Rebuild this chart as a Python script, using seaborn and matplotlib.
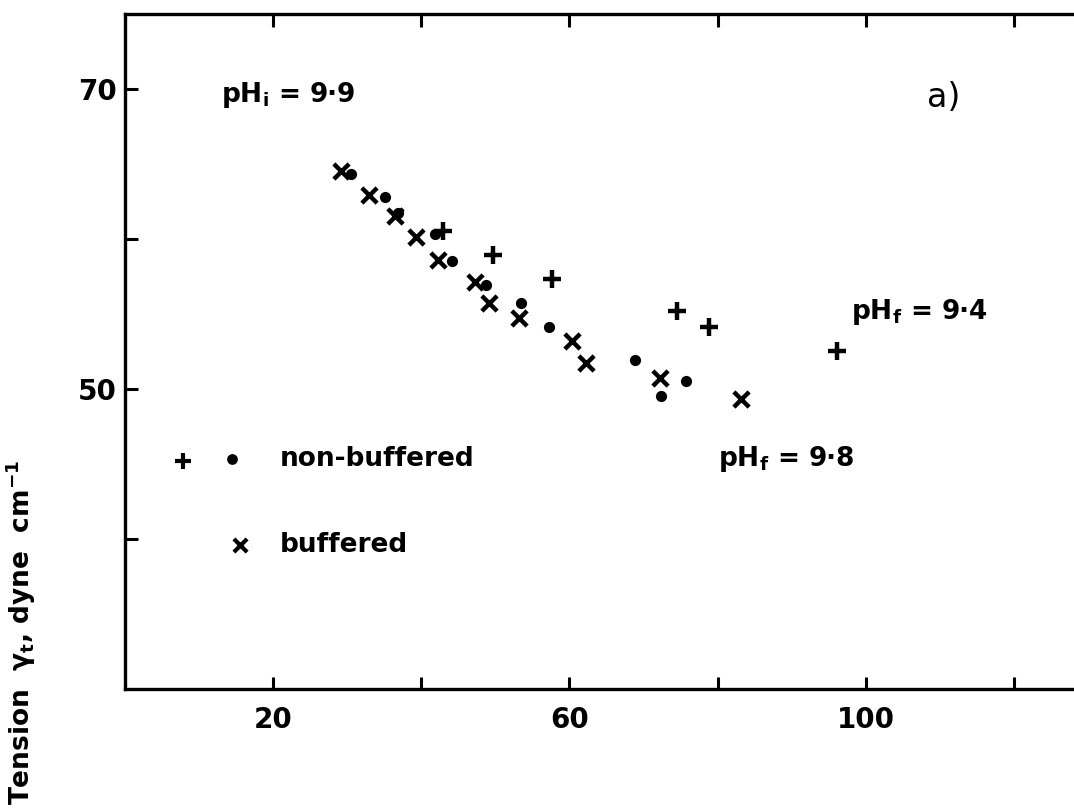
import matplotlib
matplotlib.use("Agg")
import matplotlib.pyplot as plt
import seaborn as sns
import pandas as pd

# ---- data ----
buf_x = [29.2, 33.0, 36.5, 39.3, 42.3, 47.3, 49.2, 53.2, 60.4, 62.2, 72.2, 83.2]
buf_y = [64.5, 62.9, 61.5, 60.1, 58.6, 57.1, 55.7, 54.7, 53.2, 51.7, 50.7, 49.3]

dot_x = [30.5, 35.1, 36.9, 41.9, 44.2, 48.8, 53.4, 57.3, 68.8, 75.8, 72.4]
dot_y = [64.3, 62.8, 61.7, 60.3, 58.5, 56.9, 55.7, 54.1, 51.9, 50.5, 49.5]

plus_x = [43.0, 49.7, 57.6, 74.5, 78.8, 96.1]
plus_y = [60.5, 58.9, 57.3, 55.2, 54.1, 52.5]

x_ticks = [20, 40, 60, 80, 100, 120]
x_ticklabels = ["20", "", "60", "", "100", ""]
y_ticks = [40, 50, 60, 70]
y_ticklabels = ["", "50", "", "70"]

sns.set_theme(style="ticks")
plt.rcParams['font.family'] = ['DejaVu Sans']
plt.rcParams['text.color'] = 'black'
plt.rcParams['mathtext.default'] = 'bf'

fig = plt.figure(figsize=(10.74, 8.08), dpi=100)
ax = fig.add_axes([0.1164, 0.1473, 0.8965, 0.8354])

df_buf = pd.DataFrame({"x": buf_x, "y": buf_y})
df_dot = pd.DataFrame({"x": dot_x, "y": dot_y})
df_plus = pd.DataFrame({"x": plus_x, "y": plus_y})

sns.scatterplot(data=df_buf, x="x", y="y", marker="x", s=120, color="black",
                linewidth=3.2, ax=ax, zorder=3)
sns.scatterplot(data=df_dot, x="x", y="y", marker="o", s=65, color="black",
                edgecolor="black", linewidth=0, ax=ax, zorder=3)
sns.scatterplot(data=df_plus, x="x", y="y", marker="+", s=160, color="black",
                linewidth=3.2, ax=ax, zorder=3)

# legend drawn as in original (inside axes)
ax.scatter([7.8], [45.2], marker="+", s=130, color="black", linewidths=3.0)
ax.scatter([14.5], [45.3], marker="o", s=60, color="black", linewidths=0)
ax.scatter([15.5], [39.6], marker="x", s=90, color="black", linewidths=3.0)
ax.text(20.9, 45.3, "non-buffered", fontsize=19, fontweight="bold", va="center", ha="left", color="black")
ax.text(20.9, 39.6, "buffered", fontsize=19, fontweight="bold", va="center", ha="left", color="black")

# annotations
ax.text(13.0, 69.6, r"pH$_{i}$ = 9·9", fontsize=19, fontweight="bold", va="center", ha="left", color="black")
ax.text(108.3, 69.4, "a)", fontsize=24, va="center", ha="left", color="black")
ax.text(98.0, 55.1, r"pH$_{f}$ = 9·4", fontsize=19, fontweight="bold", va="center", ha="left", color="black")
ax.text(80.0, 45.3, r"pH$_{f}$ = 9·8", fontsize=19, fontweight="bold", va="center", ha="left", color="black")

ax.set_xlim(0, 130)
ax.set_ylim(30, 75)
ax.set_xticks(x_ticks)
ax.set_xticklabels(x_ticklabels)
ax.set_yticks(y_ticks)
ax.set_yticklabels(y_ticklabels)
ax.set_xlabel("")
ax.set_ylabel("")

for side in ["left", "bottom", "top", "right"]:
    ax.spines[side].set_visible(True)
    ax.spines[side].set_linewidth(2.4)
    ax.spines[side].set_color("black")

ax.tick_params(axis="both", which="major", direction="in", length=9, width=2.2,
               top=True, right=True, labelsize=20, colors="black")
ax.tick_params(axis="x", pad=12)
ax.tick_params(axis="y", pad=6)
for lab in ax.get_xticklabels() + ax.get_yticklabels():
    lab.set_fontweight("bold")

fig.text(0.019, 0.004, r"Tension  $\gamma_{t}$, dyne  cm$^{-1}$", rotation=90,
         fontsize=19, fontweight="bold", ha="center", va="bottom", color="black")

fig.savefig("out.png", dpi=100, facecolor="white")
